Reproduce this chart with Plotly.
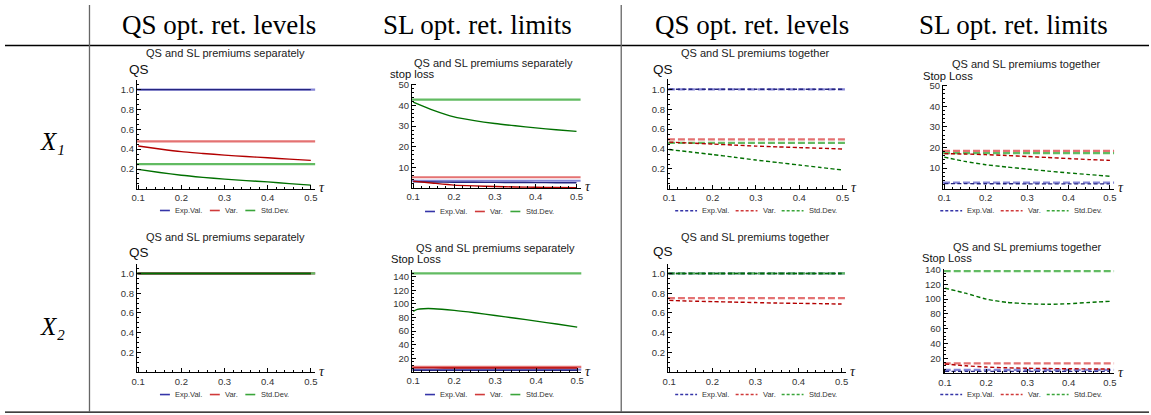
import plotly.graph_objects as go

W, H = 1151, 415

# ---------------- data ----------------
tau = [0.1, 0.15, 0.2, 0.25, 0.3, 0.35, 0.4, 0.45, 0.5]
tau_x2 = [0.1, 0.11, 0.125, 0.15, 0.2, 0.25, 0.3, 0.35, 0.4, 0.45, 0.5]

series_names = ["Exp.Val.", "Var.", "Std.Dev."]
x_ticks = [0.1, 0.2, 0.3, 0.4, 0.5]
x_ticklabels = ["0.1", "0.2", "0.3", "0.4", "0.5"]
qs_ticks = [0.2, 0.4, 0.6, 0.8, 1.0]
qs_ticklabels = ["0.2", "0.4", "0.6", "0.8", "1.0"]
sl50_ticks = [10, 20, 30, 40, 50]
sl50_ticklabels = ["10", "20", "30", "40", "50"]
sl140_ticks = [20, 40, 60, 80, 100, 120, 140]
sl140_ticklabels = ["20", "40", "60", "80", "100", "120", "140"]

col_headers = ["QS opt. ret. levels", "SL opt. ret. limits",
               "QS opt. ret. levels", "SL opt. ret. limits"]
row_labels = ["X₁", "X₂"]
titles = ["QS and SL premiums separately", "QS and SL premiums separately",
          "QS and SL premiums together", "QS and SL premiums together"] * 2
ylabels = ["QS", "stop loss", "QS", "Stop Loss", "QS", "Stop Loss", "QS", "Stop Loss"]

# X1, QS, separately
p1_const = [1.0, 0.478, 0.249]
p1_ev = [1.0, 1.0, 1.0, 1.0, 1.0, 1.0, 1.0, 1.0, 1.0]
p1_var = [0.432, 0.402, 0.375, 0.357, 0.340, 0.326, 0.313, 0.300, 0.287]
p1_sd = [0.196, 0.165, 0.137, 0.116, 0.098, 0.083, 0.070, 0.053, 0.037]
# X1, SL, separately
p2_const = [3.5, 5.2, 42.8]
p2_ev = [3.0, 2.9, 2.8, 2.75, 2.7, 2.65, 2.6, 2.55, 2.5]
p2_var = [3.3, 2.3, 1.4, 1.0, 0.7, 0.5, 0.35, 0.2, 0.1]
p2_sd = [41.6, 37.6, 34.4, 32.6, 31.2, 30.1, 29.1, 28.2, 27.4]
# X1, QS, together
p3_const = [1.0, 0.498, 0.462]
p3_ev = [1.0, 1.0, 1.0, 1.0, 1.0, 1.0, 1.0, 1.0, 1.0]
p3_var = [0.470, 0.460, 0.450, 0.440, 0.430, 0.422, 0.415, 0.408, 0.400]
p3_sd = [0.395, 0.370, 0.345, 0.318, 0.290, 0.265, 0.240, 0.215, 0.190]
# X1, SL, together
p4_const = [2.9, 18.3, 17.2]
p4_ev = [2.4, 2.4, 2.35, 2.35, 2.3, 2.3, 2.3, 2.3, 2.3]
p4_var = [17.0, 16.8, 16.5, 16.1, 15.6, 15.1, 14.6, 14.1, 13.7]
p4_sd = [15.3, 13.2, 11.6, 10.5, 9.5, 8.5, 7.6, 6.8, 6.0]
# X2, QS, separately
p5_const = [1.0, 1.0, 1.0]
p5_ev = [1.0, 1.0, 1.0, 1.0, 1.0, 1.0, 1.0, 1.0, 1.0]
p5_var = [1.0, 1.0, 1.0, 1.0, 1.0, 1.0, 1.0, 1.0, 1.0]
p5_sd = [1.0, 1.0, 1.0, 1.0, 1.0, 1.0, 1.0, 1.0, 1.0]
# X2, SL, separately
p6_const = [3.6, 7.5, 144.8]
p6_ev = [2.6, 2.6, 2.6, 2.6, 2.6, 2.6, 2.6, 2.6, 2.6]
p6_var = [6.0, 6.0, 5.9, 5.9, 5.9, 5.8, 5.8, 5.8, 5.8]
p6_sd = [89.0, 92.0, 93.0, 93.0, 90.5, 87.0, 83.0, 79.0, 74.7, 70.5, 66.0]
# X2, QS, together
p7_const = [1.0, 0.75, 1.0]
p7_ev = [1.0, 1.0, 1.0, 1.0, 1.0, 1.0, 1.0, 1.0, 1.0]
p7_var = [0.727, 0.720, 0.715, 0.710, 0.705, 0.700, 0.697, 0.694, 0.690]
p7_sd = [1.0, 1.0, 1.0, 1.0, 1.0, 1.0, 1.0, 1.0, 1.0]
# X2, SL, together
p8_const = [4.5, 13.4, 137.8]
p8_ev = [2.5, 2.5, 2.5, 2.5, 2.5, 2.5, 2.5, 2.5, 2.5]
p8_var = [12.5, 10.0, 8.3, 7.3, 6.7, 6.3, 6.0, 5.8, 5.6]
p8_sd = [114.7, 108.0, 100.0, 95.6, 93.8, 93.0, 93.8, 95.5, 97.0]

# ---------------- styles ----------------
dark_colors = ["#25257f", "#b30000", "#007000"]
light_colors = ["#8585d6", "#e47272", "#62bb62"]
legend_colors = ["#3535a8", "#d03a3a", "#3aa53a"]
SANS = "Liberation Sans"
SERIF = "Liberation Serif"

# panel geometry (pixel positions of two reference ticks on each axis)
panels = [
    dict(x=(134, 307.7), y=(166, 0.2, 85.7, 1.0), yr=(0, 1.1), yt=(qs_ticks, qs_ticklabels), ym=0.05,
         t=(222, 49), yl=(123, 65), lg=(220, 208), dashed=False,
         data=(tau, p1_const, p1_ev, p1_var, p1_sd), xsd=tau),
    dict(x=(410.7, 575), y=(164.3, 10, 80.7, 50), yr=(0, 50.5), yt=(sl50_ticks, sl50_ticklabels), ym=2,
         t=(491.7, 58.5), yl=(385, 70), lg=(486.7, 209), dashed=False,
         data=(tau, p2_const, p2_ev, p2_var, p2_sd), xsd=tau),
    dict(x=(668.3, 842.7), y=(166, 0.2, 85.3, 1.0), yr=(0, 1.1), yt=(qs_ticks, qs_ticklabels), ym=0.05,
         t=(755, 49), yl=(650, 65), lg=(755, 208.3), dashed=True,
         data=(tau, p3_const, p3_ev, p3_var, p3_sd), xsd=tau),
    dict(x=(945, 1111.7), y=(165, 10, 81.7, 50), yr=(0, 50.5), yt=(sl50_ticks, sl50_ticklabels), ym=2,
         t=(1028, 59.5), yl=(921.7, 71.5), lg=(1021.7, 208.3), dashed=True,
         data=(tau, p4_const, p4_ev, p4_var, p4_sd), xsd=tau),
    dict(x=(134, 307.7), y=(351.7, 0.2, 271.7, 1.0), yr=(0, 1.1), yt=(qs_ticks, qs_ticklabels), ym=0.05,
         t=(221.7, 235), yl=(123, 251), lg=(220, 394.3), dashed=False,
         data=(tau, p5_const, p5_ev, p5_var, p5_sd), xsd=tau),
    dict(x=(410.7, 575.7), y=(357.7, 20, 275, 140), yr=(0, 150), yt=(sl140_ticks, sl140_ticklabels), ym=5,
         t=(493.3, 246.2), yl=(386, 257.5), lg=(486.7, 394.3), dashed=False,
         data=(tau, p6_const, p6_ev, p6_var, p6_sd), xsd=tau_x2),
    dict(x=(668.3, 841.7), y=(351.7, 0.2, 271.7, 1.0), yr=(0, 1.1), yt=(qs_ticks, qs_ticklabels), ym=0.05,
         t=(755, 235), yl=(650, 250), lg=(755, 394.3), dashed=True,
         data=(tau, p7_const, p7_ev, p7_var, p7_sd), xsd=tau),
    dict(x=(945.7, 1111.7), y=(357.7, 20, 267.7, 140), yr=(0, 141), yt=(sl140_ticks, sl140_ticklabels), ym=5,
         t=(1028.3, 245), yl=(920.7, 256.5), lg=(1021.7, 394.3), dashed=True,
         data=(tau, p8_const, p8_ev, p8_var, p8_sd), xsd=tau),
]
XR = (0.097, 0.51)


def px(x):
    return x / W


def py(y):
    return 1 - y / H


fig = go.Figure()
layout = {}
shapes = []
annotations = []

text_w = [28.5, 14.0, 29.0]


def add_legend(cx, cy, dashed):
    L = 22 if dashed else 10
    g1 = 3.3
    g2 = 7 if dashed else 8.4
    total = sum(L + g1 + w for w in text_w) + 2 * g2
    x = cx - total / 2
    for name, col, w in zip(series_names, legend_colors, text_w):
        shapes.append(dict(type="line", xref="paper", yref="paper",
                           x0=px(x), x1=px(x + L), y0=py(cy), y1=py(cy),
                           line=dict(color=col, width=1.6, dash="3px,2px" if dashed else "solid")))
        annotations.append(dict(text=name, xref="paper", yref="paper", x=px(x + L + g1), y=py(cy),
                                xanchor="left", yanchor="middle", showarrow=False,
                                font=dict(family=SANS, size=7.5, color="#333")))
        x += L + g1 + w + g2


for i, p in enumerate(panels, start=1):
    xa = "xaxis" if i == 1 else f"xaxis{i}"
    ya = "yaxis" if i == 1 else f"yaxis{i}"
    xr_ = "x" if i == 1 else f"x{i}"
    yr_ = "y" if i == 1 else f"y{i}"
    # x domain
    a, b = p["x"]
    s = (b - a) / 0.4
    left = a - (0.1 - XR[0]) * s
    right = b + (XR[1] - 0.5) * s
    # y domain
    pa, va, pb, vb = p["y"]
    sy = (pa - pb) / (vb - va)
    bottom = pa + (va - p["yr"][0]) * sy
    top = pb - (p["yr"][1] - vb) * sy
    tickfont = dict(family=SANS, size=9.5, color="#333")
    layout[xa] = dict(domain=[px(left), px(right)], range=list(XR), anchor=yr_,
                      showline=True, linecolor="black", linewidth=1, ticks="inside", ticklen=4,
                      tickcolor="black", tickvals=x_ticks, ticktext=x_ticklabels, tickfont=tickfont,
                      showgrid=False, zeroline=False, fixedrange=True,
                      minor=dict(tickmode="linear", tick0=0.1, dtick=0.02, ticks="inside",
                                 ticklen=2, tickcolor="black", showgrid=False))
    layout[ya] = dict(domain=[py(bottom), py(top)], range=list(p["yr"]), anchor=xr_,
                      showline=True, linecolor="black", linewidth=1, ticks="inside", ticklen=4,
                      tickcolor="black", tickvals=p["yt"][0], ticktext=p["yt"][1], tickfont=tickfont,
                      showgrid=False, zeroline=False, fixedrange=True,
                      minor=dict(tickmode="linear", tick0=0, dtick=p["ym"], ticks="inside",
                                 ticklen=2, tickcolor="black", showgrid=False))
    tx, consts, ev, var, sd = p["data"]
    curves = [(tx, ev), (tx, var), (p["xsd"], sd)]
    dashed = p["dashed"]
    for k in range(3):
        # optimal constant level (light), spanning the whole axis
        shapes.append(dict(type="line", xref=f"{xr_} domain", yref=yr_, x0=0, x1=1,
                           y0=consts[k], y1=consts[k], layer="below",
                           line=dict(color=light_colors[k], width=2.2,
                                     dash="7px,3px" if dashed else "solid")))
    for k in range(3):
        cx_, cy_ = curves[k]
        fig.add_trace(go.Scatter(x=cx_, y=cy_, mode="lines", xaxis=xr_, yaxis=yr_,
                                 line=dict(color=dark_colors[k], width=1.4, shape="spline",
                                           smoothing=0.6, dash="4px,2.5px" if dashed else "solid"),
                                 showlegend=False, hoverinfo="skip", cliponaxis=True))
    annotations.append(dict(text=titles[i - 1], xref="paper", yref="paper", x=px(p["t"][0]), y=py(p["t"][1]),
                            xanchor="center", yanchor="middle", showarrow=False,
                            font=dict(family=SANS, size=11, color="#222")))
    yl_size = 13.5 if ylabels[i - 1] == "QS" else 11.2
    annotations.append(dict(text=ylabels[i - 1], xref="paper", yref="paper", x=px(p["yl"][0]), y=py(p["yl"][1]),
                            xanchor="left", yanchor="middle", showarrow=False,
                            font=dict(family=SANS, size=yl_size, color="#111")))
    annotations.append(dict(text="τ", xref=f"{xr_} domain", yref=yr_, x=1, y=0,
                            xanchor="left", yanchor="middle", xshift=2, yshift=1, showarrow=False,
                            font=dict(family=SERIF, size=14, color="#111", style="italic")))
    add_legend(p["lg"][0], p["lg"][1], dashed)

# ---------------- table frame ----------------
shapes.append(dict(type="line", xref="paper", yref="paper", x0=0, x1=1, y0=py(41), y1=py(41),
                   line=dict(color="black", width=1.3)))
shapes.append(dict(type="line", xref="paper", yref="paper", x0=0, x1=1, y0=py(412), y1=py(412),
                   line=dict(color="black", width=1.3)))
for vx in (85, 620):
    shapes.append(dict(type="line", xref="paper", yref="paper", x0=px(vx), x1=px(vx), y0=py(0), y1=py(412),
                       line=dict(color="#666", width=1.3)))
for hx, htext in zip((215, 475, 752, 1015), col_headers):
    annotations.append(dict(text=htext, xref="paper", yref="paper", x=px(hx), y=py(20),
                            xanchor="center", yanchor="middle", showarrow=False,
                            font=dict(family=SERIF, size=27, color="black")))
for ry, rtext in zip((138, 325), row_labels):
    annotations.append(dict(text=rtext, xref="paper", yref="paper", x=px(48), y=py(ry),
                            xanchor="center", yanchor="middle", showarrow=False,
                            font=dict(family=SERIF, size=25, color="black", style="italic")))

fig.update_layout(width=W, height=H, margin=dict(l=0, r=0, t=0, b=0),
                  paper_bgcolor="white", plot_bgcolor="white", showlegend=False,
                  shapes=shapes, annotations=annotations, **layout)
fig.write_html("out.html", config={"displayModeBar": False})
